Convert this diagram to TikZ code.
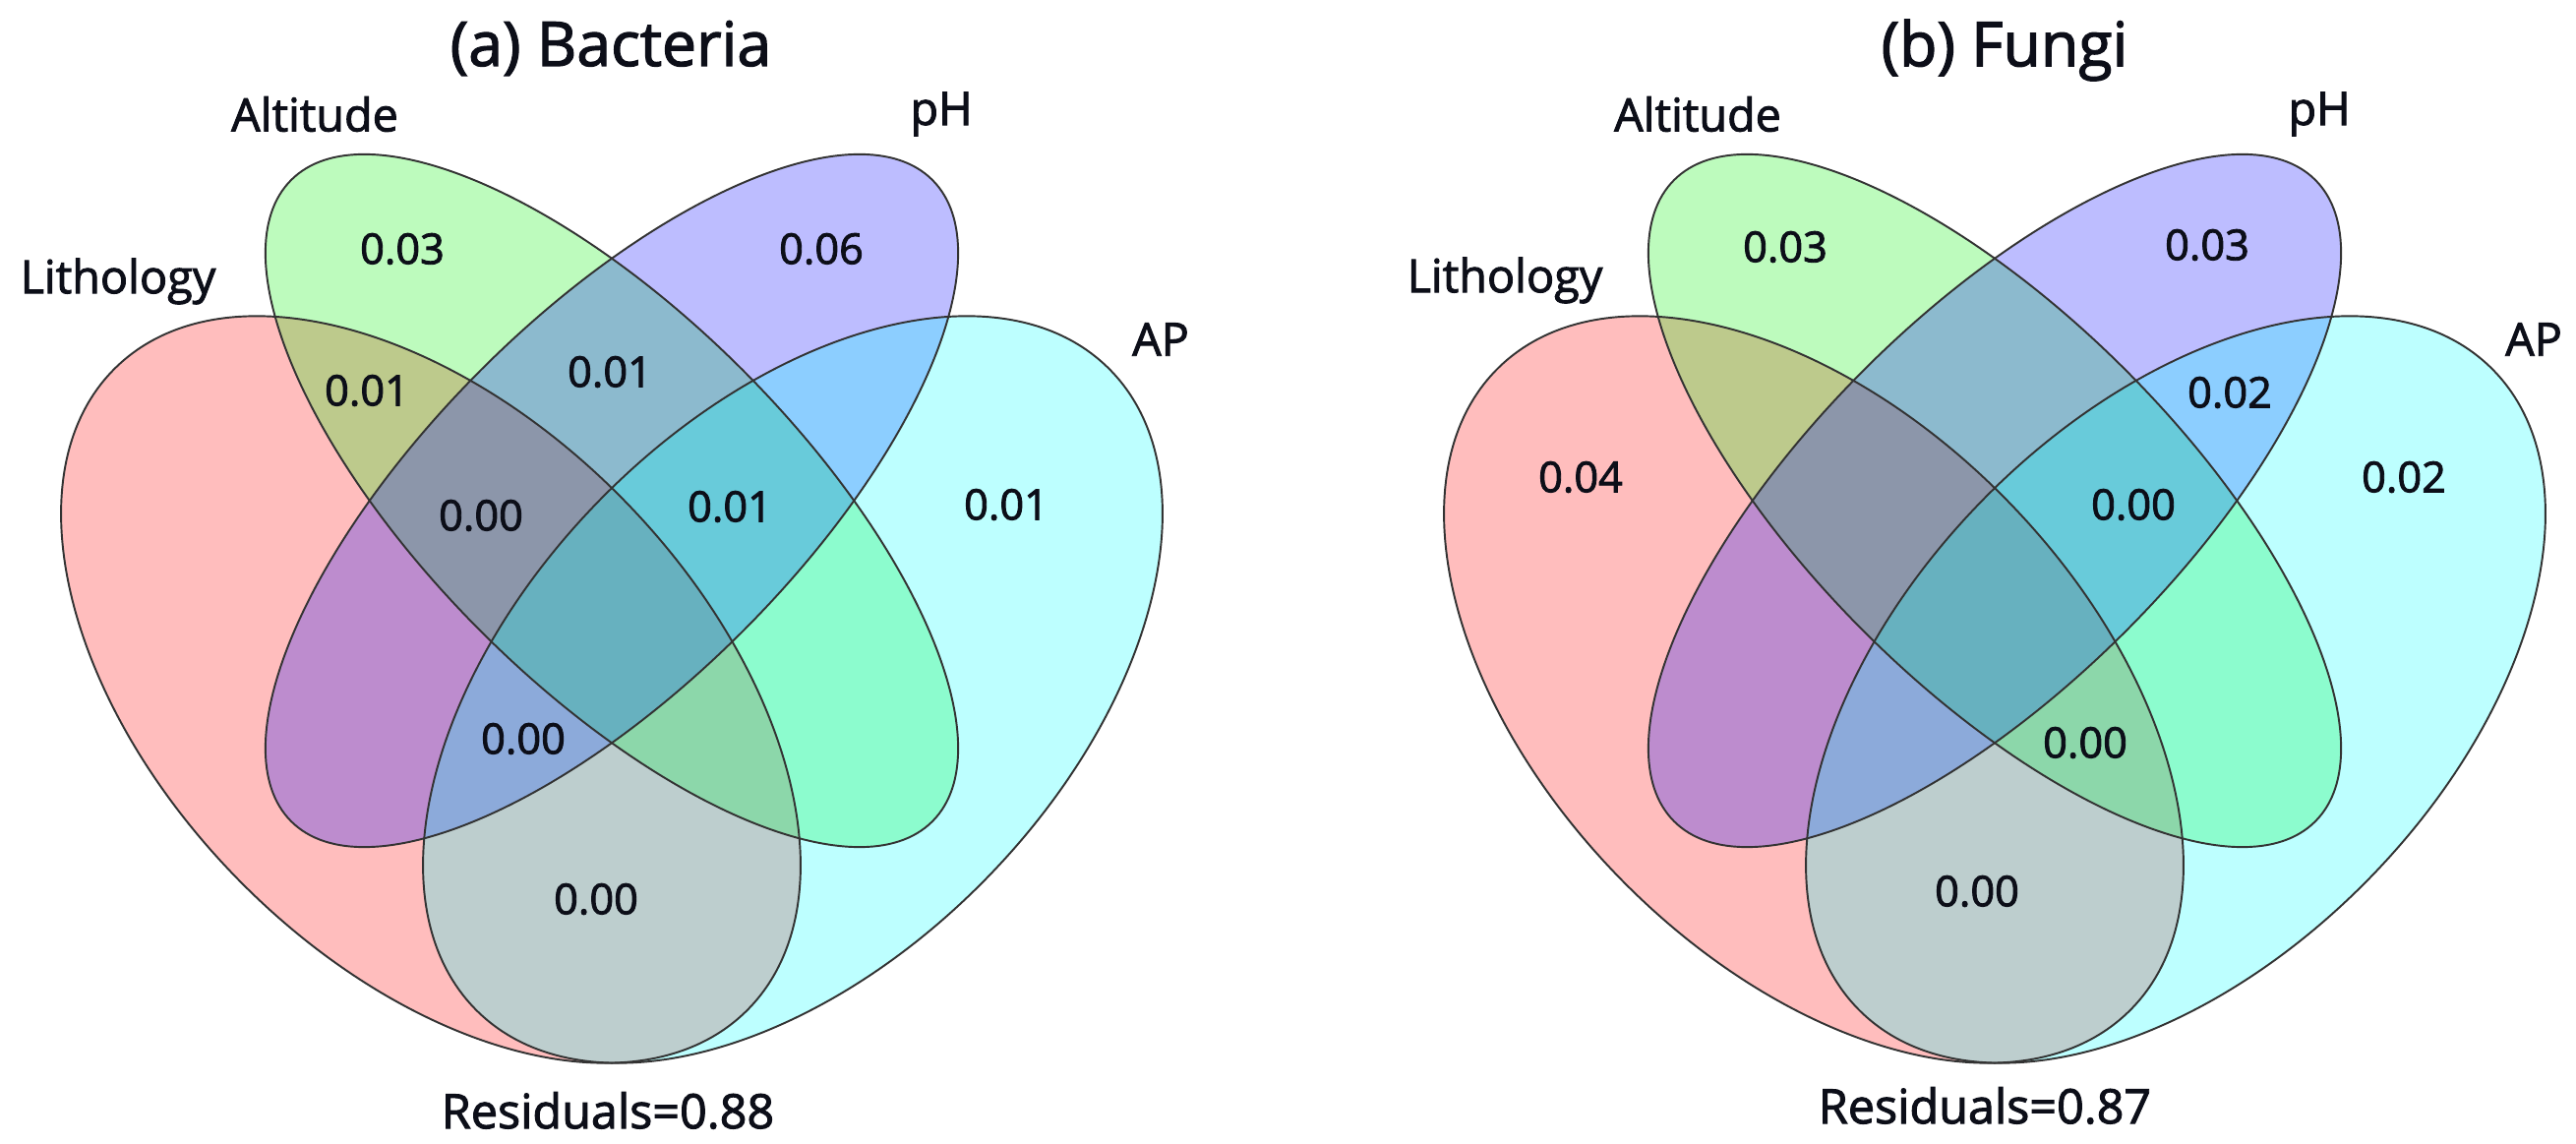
\documentclass[tikz,border=0pt]{standalone}
\usepackage{fontspec}
\setmainfont{Open Sans}
\newfontfamily\semib{Open Sans}[FakeBold=2]
\definecolor{vred}{RGB}{255,0,0}
\definecolor{vgreen}{RGB}{0,240,0}
\definecolor{vblue}{RGB}{0,0,255}
\definecolor{vcyan}{RGB}{0,255,255}
\definecolor{txt}{RGB}{12,14,24}
\newcommand\myvennshapes{%
  \path[setfill=vred]   (438,461) ellipse [x radius=458, y radius=275, rotate=-45.6];
  \path[setfill=vgreen] (622,653) ellipse [x radius=461, y radius=188, rotate=-45];
  \path[setfill=vblue]  (622,653) ellipse [x radius=461, y radius=188, rotate=45];
  \path[setfill=vcyan]  (806,461) ellipse [x radius=458, y radius=275, rotate=45.6];
  \draw[setline] (438,461) ellipse [x radius=458, y radius=275, rotate=-45.6];
  \draw[setline] (622,653) ellipse [x radius=461, y radius=188, rotate=-45];
  \draw[setline] (622,653) ellipse [x radius=461, y radius=188, rotate=45];
  \draw[setline] (806,461) ellipse [x radius=458, y radius=275, rotate=45.6];
}
\begin{document}
\begin{tikzpicture}[x=0.1mm,y=0.1mm,
  setfill/.style={fill=#1, fill opacity=0.26},
  setline/.style={draw=black!80, line width=0.55pt},
  num/.style={font=\semib\fontsize{12.3}{14}\selectfont, text=txt},
  lbl/.style={font=\semib\fontsize{13.3}{15}\selectfont, text=txt},
  res/.style={font=\semib\fontsize{13.8}{16}\selectfont, text=txt},
  ttl/.style={font=\semib\fontsize{17.8}{20}\selectfont, text=txt}]
\useasboundingbox (0,0) rectangle (2619,1162);
% ---------- panel (a)
\begin{scope}
  \myvennshapes
\end{scope}
  \node[ttl] (ta) at (621,1113) {(a) Bacteria};
  \node[lbl] (altA) at (320,1046) {Altitude};
  \node[lbl] (phA) at (957,1046) {pH};
  \node[lbl] (litA) at (120,876) {Lithology};
  \node[lbl] (apA) at (1180,817) {AP};
  \node[num] (a1) at (409,909) {0.03};
  \node[num] (a2) at (835,909) {0.06};
  \node[num] (a3) at (373,765) {0.01};
  \node[num] (a4) at (620,784) {0.01};
  \node[num] (a5) at (489,638) {0.00};
  \node[num] (a6) at (742,647) {0.01};
  \node[num] (a7) at (1023,649) {0.01};
  \node[num] (a8) at (532,411) {0.00};
  \node[num] (a9) at (606,248) {0.00};
  \node[res] (resA) at (618,33) {Residuals=0.88};
% ---------- panel (b)
\begin{scope}[shift={(1406,0)}]
  \myvennshapes
\end{scope}
  \node[ttl] (tb) at (2038,1111) {(b) Fungi};
  \node[lbl] (altB) at (1726,1046) {Altitude};
  \node[lbl] (phB) at (2358,1046) {pH};
  \node[lbl] (litB) at (1530,877) {Lithology};
  \node[lbl] (apB) at (2576,817) {AP};
  \node[num] (b1) at (1815,911) {0.03};
  \node[num] (b2) at (2244,913) {0.03};
  \node[num] (b3) at (2267,763) {0.02};
  \node[num] (b4) at (1607,677) {0.04};
  \node[num] (b5) at (2169,649) {0.00};
  \node[num] (b6) at (2444,677) {0.02};
  \node[num] (b7) at (2120,407) {0.00};
  \node[num] (b8) at (2010,256) {0.00};
  \node[res] (resB) at (2018,38) {Residuals=0.87};
\end{tikzpicture}
\end{document}
